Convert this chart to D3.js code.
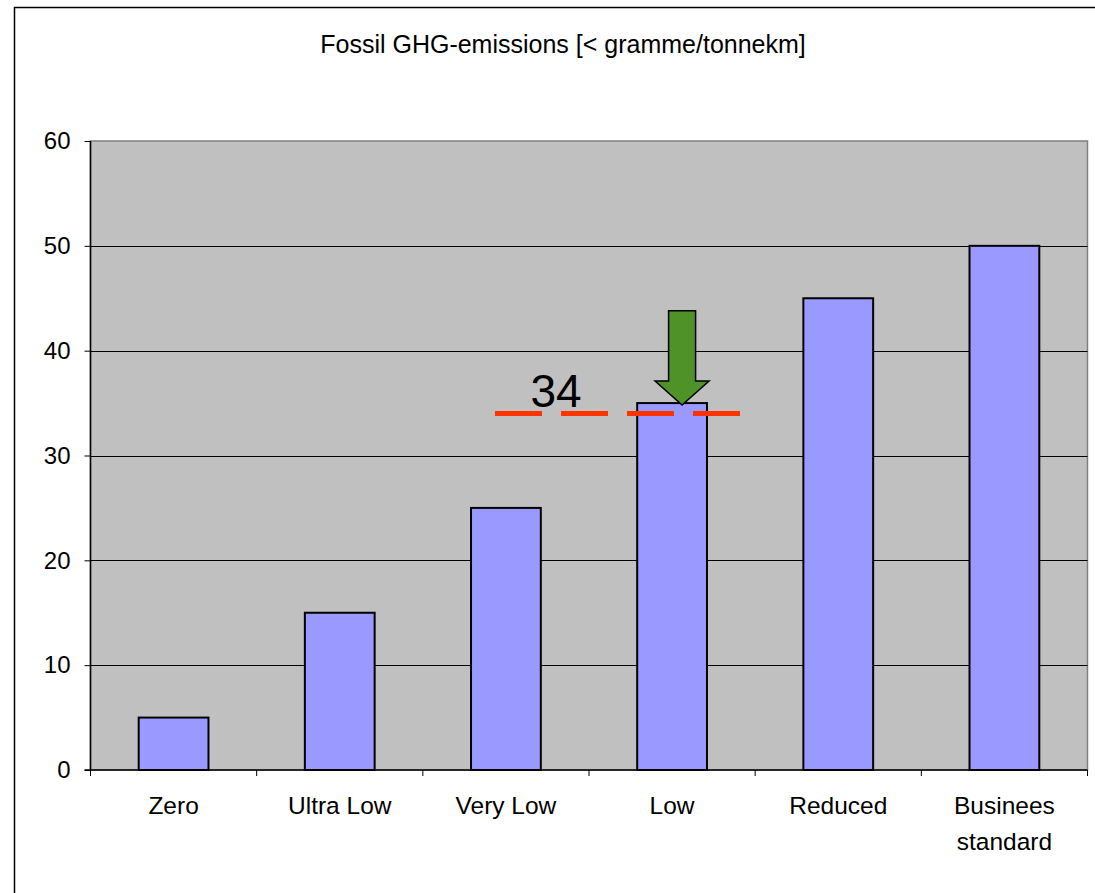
<!DOCTYPE html>
<html lang="en">
  <head>
    <meta charset="UTF-8" />
    <title>Fossil GHG-emissions</title>
    <style>
      body { margin: 0; background: #fff; }
      text { font-family: Arial, "Liberation Sans", sans-serif; fill: #000; }
    </style>
  </head>
  <body>
    <svg width="1095" height="893"></svg>
    <script src="https://d3js.org/d3.v7.min.js"></script>
    <script>
      // data
      var categories = ["Zero", "Ultra Low", "Very Low", "Low", "Reduced", "Businees standard"];
      var values = [5, 15, 25, 35, 45, 50];
      var yTicks = [0, 10, 20, 30, 40, 50, 60];
      var targetValue = 34;
      var targetLabel = "34";
      var arrowCategory = "Low";
      var arrowTop = 43.8; // value at the top of the arrow shaft
      var title = "Fossil GHG-emissions [< gramme/tonnekm]";

      var svg = d3.select("svg");

      // outer chart border
      svg.append("rect")
        .attr("x", 14.5).attr("y", 7.5)
        .attr("width", 1100).attr("height", 900)
        .attr("fill", "none").attr("stroke", "#000").attr("stroke-width", 1.5);

      var pLeft = 90.5, pRight = 1087.5, pTop = 141, pBottom = 770;

      var x = d3.scaleBand().domain(categories).range([pLeft, pRight]).paddingInner(0.58).paddingOuter(0.29);
      var xOuter = d3.scaleBand().domain(categories).range([pLeft, pRight]);
      var y = d3.scaleLinear().domain([0, 60]).range([pBottom, pTop]);

      // plot area
      svg.append("rect")
        .attr("x", pLeft).attr("y", pTop)
        .attr("width", pRight - pLeft).attr("height", pBottom - pTop)
        .attr("fill", "#c0c0c0")
        .attr("stroke", "#808080").attr("stroke-width", 1.5);

      // gridlines
      svg.append("g").selectAll("line")
        .data(yTicks.filter(function(d) { return d > 0 && d < 60; }))
        .enter().append("line")
        .attr("x1", pLeft).attr("x2", pRight)
        .attr("y1", function(d) { return Math.round(y(d)) + 0.5; })
        .attr("y2", function(d) { return Math.round(y(d)) + 0.5; })
        .attr("stroke", "#000").attr("stroke-width", 1);

      // bars
      svg.append("g").selectAll("rect")
        .data(values)
        .enter().append("rect")
        .attr("x", function(d, i) { return x(categories[i]); })
        .attr("width", x.bandwidth())
        .attr("y", function(d) { return y(d); })
        .attr("height", function(d) { return pBottom - y(d); })
        .attr("fill", "#9999ff")
        .attr("stroke", "#000").attr("stroke-width", 2);

      // y axis
      var yAxis = svg.append("g")
        .attr("transform", "translate(" + pLeft + ",0)")
        .call(d3.axisLeft(y).tickValues(yTicks).tickSize(6).tickPadding(14).tickFormat(d3.format("d")));
      yAxis.select(".domain").attr("stroke", "#000").attr("stroke-width", 1.5).attr("d", "M0," + pTop + "V" + pBottom);
      yAxis.selectAll("line").attr("stroke", "#000");
      yAxis.selectAll("text").style("font-size", "24px").attr("font-family", null);

      // x axis
      var xAxisG = svg.append("g").attr("transform", "translate(0," + pBottom + ")");
      xAxisG.append("line").attr("x1", pLeft - 6).attr("x2", pRight).attr("stroke", "#000").attr("stroke-width", 1.5);
      xAxisG.selectAll(".tk")
        .data(categories.concat(["end"]))
        .enter().append("line")
        .attr("x1", function(d, i) { return pLeft + i * xOuter.step(); })
        .attr("x2", function(d, i) { return pLeft + i * xOuter.step(); })
        .attr("y1", 0).attr("y2", 6)
        .attr("stroke", "#000");
      xAxisG.selectAll(".lbl")
        .data(categories)
        .enter().append("text")
        .attr("text-anchor", "middle")
        .style("font-size", "24.5px")
        .each(function(d) {
          var words = d === "Businees standard" ? ["Businees", "standard"] : [d];
          var t = d3.select(this);
          words.forEach(function(w, k) {
            t.append("tspan")
              .attr("x", xOuter(d) + xOuter.bandwidth() / 2)
              .attr("y", 44 + k * 36)
              .text(w);
          });
        });

      // target dashed line
      var lowX = x(arrowCategory);
      svg.append("line")
        .attr("x1", 495).attr("x2", 741)
        .attr("y1", y(targetValue)).attr("y2", y(targetValue))
        .attr("stroke", "#ff3300").attr("stroke-width", 5)
        .attr("stroke-dasharray", "47,19");
      svg.append("text")
        .attr("x", 556).attr("y", y(targetValue) - 7)
        .attr("text-anchor", "middle")
        .style("font-size", "46px")
        .text(targetLabel);

      // green arrow pointing at the Low bar
      var ax = lowX + x.bandwidth() / 2 + 10;
      var tipY = y(35) + 2, headY = tipY - 24, topY = y(arrowTop);
      svg.append("path")
        .attr("d", "M" + (ax - 13.5) + "," + topY + "H" + (ax + 13.5) + "V" + headY + "H" + (ax + 27) +
          "L" + ax + "," + tipY + "L" + (ax - 27) + "," + headY + "H" + (ax - 13.5) + "Z")
        .attr("fill", "#4f9228").attr("stroke", "#000").attr("stroke-width", 1.5);

      // title
      svg.append("text")
        .attr("x", 563).attr("y", 53)
        .attr("text-anchor", "middle")
        .style("font-size", "25px")
        .text(title);
    </script>
  </body>
</html>
